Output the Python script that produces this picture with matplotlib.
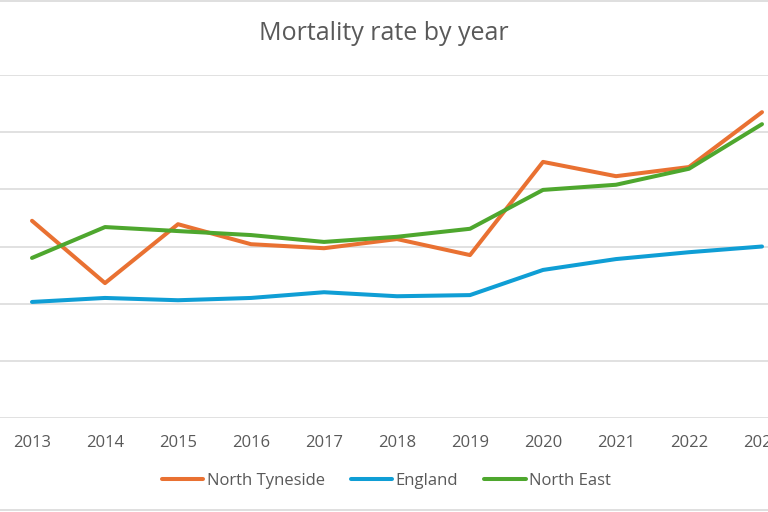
import matplotlib
matplotlib.use("Agg")
import matplotlib.pyplot as plt
from matplotlib.lines import Line2D

# data (y axis labels are cropped away, units are gridline steps x10)
years = [2013, 2014, 2015, 2016, 2017, 2018, 2019, 2020, 2021, 2022, 2023]
north_tyneside = [34.5, 23.6, 33.9, 30.4, 29.7, 31.3, 28.5, 44.8, 42.3, 43.9, 53.5]
england = [20.3, 21.0, 20.6, 21.0, 22.0, 21.3, 21.5, 25.9, 27.8, 29.0, 30.0]
north_east = [28.0, 33.4, 32.7, 32.0, 30.8, 31.7, 33.1, 39.9, 40.8, 43.6, 51.4]
series_names = ["North Tyneside", "England", "North East"]
colors = ["#E97132", "#0F9ED5", "#4EA72E"]
y_ticks = [0, 10, 20, 30, 40, 50, 60]

plt.rcParams['font.family'] = ['Open Sans', 'DejaVu Sans']
TEXT = "#595959"
W, H = 768, 512

fig = plt.figure(figsize=(W / 100, H / 100), dpi=100)
# plot area runs past the image edges, like the cropped original
left, right = -4.5, 798.5
top, bottom = 75, 418
ax = fig.add_axes([left / W, 1 - bottom / H, (right - left) / W, (bottom - top) / H])

for vals, c, name in zip([north_tyneside, england, north_east], colors, series_names):
    ax.plot(years, vals, color=c, lw=2.9, solid_capstyle='round', solid_joinstyle='round',
            label=name, zorder=3)

ax.set_xlim(years[0] - 0.5, years[-1] + 0.5)
ax.set_ylim(y_ticks[0], y_ticks[-1])
ax.set_yticks(y_ticks)
ax.set_yticklabels([])
ax.set_xticks(years)
ax.set_xticklabels([str(y) for y in years], fontsize=12, color=TEXT)
ax.tick_params(axis='both', length=0)
ax.tick_params(axis='x', pad=12)
ax.grid(axis='y', color="#D9D9D9", lw=1.1)
for s in ax.spines.values():
    s.set_visible(False)

fig.text(0.5, 1 - 34 / H, "Mortality rate by year", ha='center', va='center',
         fontsize=18, color=TEXT)

handles = [Line2D([], [], color=c, lw=2.9, solid_capstyle='round') for c in colors]
fig.legend(handles, series_names, loc='center', bbox_to_anchor=(0.503, 1 - 481 / H),
           ncol=3, frameon=False, fontsize=12, handlelength=2.5, handletextpad=0.2,
           columnspacing=1.55, labelcolor=TEXT)

# chart border remains at top and bottom of the crop
fig.add_artist(Line2D([0, 1], [1 - 1 / H, 1 - 1 / H], transform=fig.transFigure,
                      color="#D9D9D9", lw=1.2))
fig.add_artist(Line2D([0, 1], [1 - 510 / H, 1 - 510 / H], transform=fig.transFigure,
                      color="#D9D9D9", lw=1.2))

fig.savefig("out.png", dpi=100)
